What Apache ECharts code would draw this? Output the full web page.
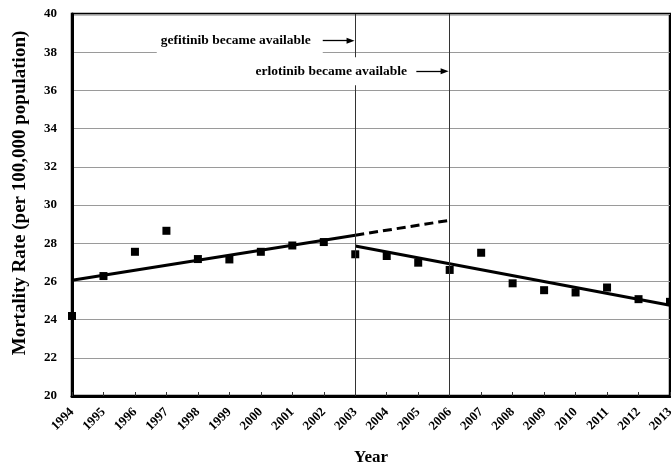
<!DOCTYPE html>
<html>
<head>
<meta charset="utf-8">
<script src="https://cdn.jsdelivr.net/npm/echarts@6/dist/echarts.min.js"></script>
<style>
  html, body { margin: 0; padding: 0; background: #fff; }
  #chart { width: 671px; height: 466px; }
</style>
</head>
<body>
<div id="chart"></div>
<script>
// Observed lung cancer mortality by year
const years = [1994, 1995, 1996, 1997, 1998, 1999, 2000, 2001, 2002, 2003,
               2004, 2005, 2006, 2007, 2008, 2009, 2010, 2011, 2012, 2013];
const rates = [24.19, 26.28, 27.55, 28.65, 27.17, 27.15, 27.55, 27.88, 28.06, 27.42,
               27.33, 26.98, 26.60, 27.50, 25.90, 25.54, 25.42, 25.68, 25.07, 24.93];

// Fitted trend before 2003, its projection to 2006, and the trend after 2003
const trendBefore = [[1994, 26.06], [2003, 28.42]];
const trendProjected = [[2003, 28.42], [2006, 29.20]];
const trendAfter = [[2003, 27.85], [2013, 24.75]];

// Drug approval years
const approvalYears = [2003, 2006];
const approvalNotes = ['gefitinib became available', 'erlotinib became available'];

const yTicks = { min: 20, max: 40, step: 2 };

const serif = "'Liberation Serif', 'Times New Roman', serif";

// Where each note sits, in axis units, and its arrow span
const notePlacement = [
  { at: [1999.33, 38.6], arrow: [[2001.93, 38.6], [2002.85, 38.6]], pad: [5, 12, 8, 4] },
  { at: [2002.24, 37.0], arrow: [[2004.94, 37.0], [2005.84, 37.0]], pad: [7, 6, 7, 6] }
];

const chart = echarts.init(document.getElementById('chart'), null, { renderer: 'canvas' });

const noteSeries = notePlacement.map((p, i) => ({
  type: 'scatter',
  z: 5,
  silent: true,
  symbolSize: 0,
  itemStyle: { opacity: 1 },
  data: [[p.at[0], p.at[1]]],
  label: {
    show: true,
    position: 'inside',
    formatter: approvalNotes[i],
    color: '#000',
    fontFamily: serif,
    fontWeight: 'bold',
    fontSize: 13.5,
    backgroundColor: '#fff',
    padding: p.pad
  },
  markLine: {
    silent: true,
    symbol: ['none', 'triangle'],
    symbolSize: [6, 8],
    lineStyle: { color: '#000', width: 1.3, type: 'solid', opacity: 1 },
    label: { show: false },
    data: [[{ coord: p.arrow[0] }, { coord: p.arrow[1] }]]
  }
}));

chart.setOption({
  animation: false,
  backgroundColor: '#fff',
  grid: {
    left: 72, right: 1, top: 14, bottom: 70,
    outerBoundsMode: 'none',
    containLabel: false,
    show: true,
    borderColor: '#000',
    borderWidth: 2.5,
    backgroundColor: 'transparent'
  },
  xAxis: {
    type: 'value',
    min: years[0],
    max: years[years.length - 1],
    interval: 1,
    name: 'Year',
    nameLocation: 'middle',
    nameGap: 53,
    nameTextStyle: { fontFamily: serif, fontWeight: 'bold', fontSize: 17, color: '#000' },
    axisLine: { show: true, lineStyle: { color: '#000', width: 3 } },
    axisTick: { show: true, inside: true, length: 4, lineStyle: { color: '#333', width: 1 } },
    axisLabel: {
      rotate: 45,
      margin: 14,
      fontFamily: serif,
      fontWeight: 'bold',
      fontSize: 13,
      color: '#000',
      formatter: v => String(v)
    },
    splitLine: { show: false }
  },
  yAxis: {
    type: 'value',
    min: yTicks.min,
    max: yTicks.max,
    interval: yTicks.step,
    name: 'Mortality Rate (per 100,000 population)',
    nameLocation: 'middle',
    nameGap: 42,
    nameTextStyle: {
      fontFamily: serif, fontWeight: 'bold', fontSize: 19, color: '#000',
      padding: [0, 0, 0, 24]
    },
    axisLine: { show: true, lineStyle: { color: '#000', width: 3 } },
    axisTick: { show: false },
    axisLabel: {
      margin: 15,
      fontFamily: serif,
      fontWeight: 'bold',
      fontSize: 13,
      color: '#000'
    },
    splitLine: { show: true, lineStyle: { color: '#9a9a9a', width: 1 } }
  },
  series: [
    {
      type: 'line',
      z: 2,
      silent: true,
      data: [],
      markLine: {
        silent: true,
        symbol: ['none', 'none'],
        lineStyle: { color: '#333', width: 1, type: 'solid' },
        label: { show: false },
        data: approvalYears.map(y => ({ xAxis: y }))
      }
    },
    {
      type: 'line',
      z: 3,
      data: trendBefore,
      symbol: 'none',
      lineStyle: { color: '#000', width: 3 }
    },
    {
      type: 'line',
      z: 3,
      data: trendProjected,
      symbol: 'none',
      lineStyle: { color: '#000', width: 3, type: [9, 5] }
    },
    {
      type: 'line',
      z: 3,
      data: trendAfter,
      symbol: 'none',
      lineStyle: { color: '#000', width: 3 }
    },
    {
      type: 'scatter',
      z: 4,
      symbol: 'rect',
      symbolSize: 8,
      itemStyle: { color: '#000', opacity: 1 },
      data: years.map((y, i) => [y, rates[i]])
    },
    ...noteSeries
  ]
});
</script>
</body>
</html>
